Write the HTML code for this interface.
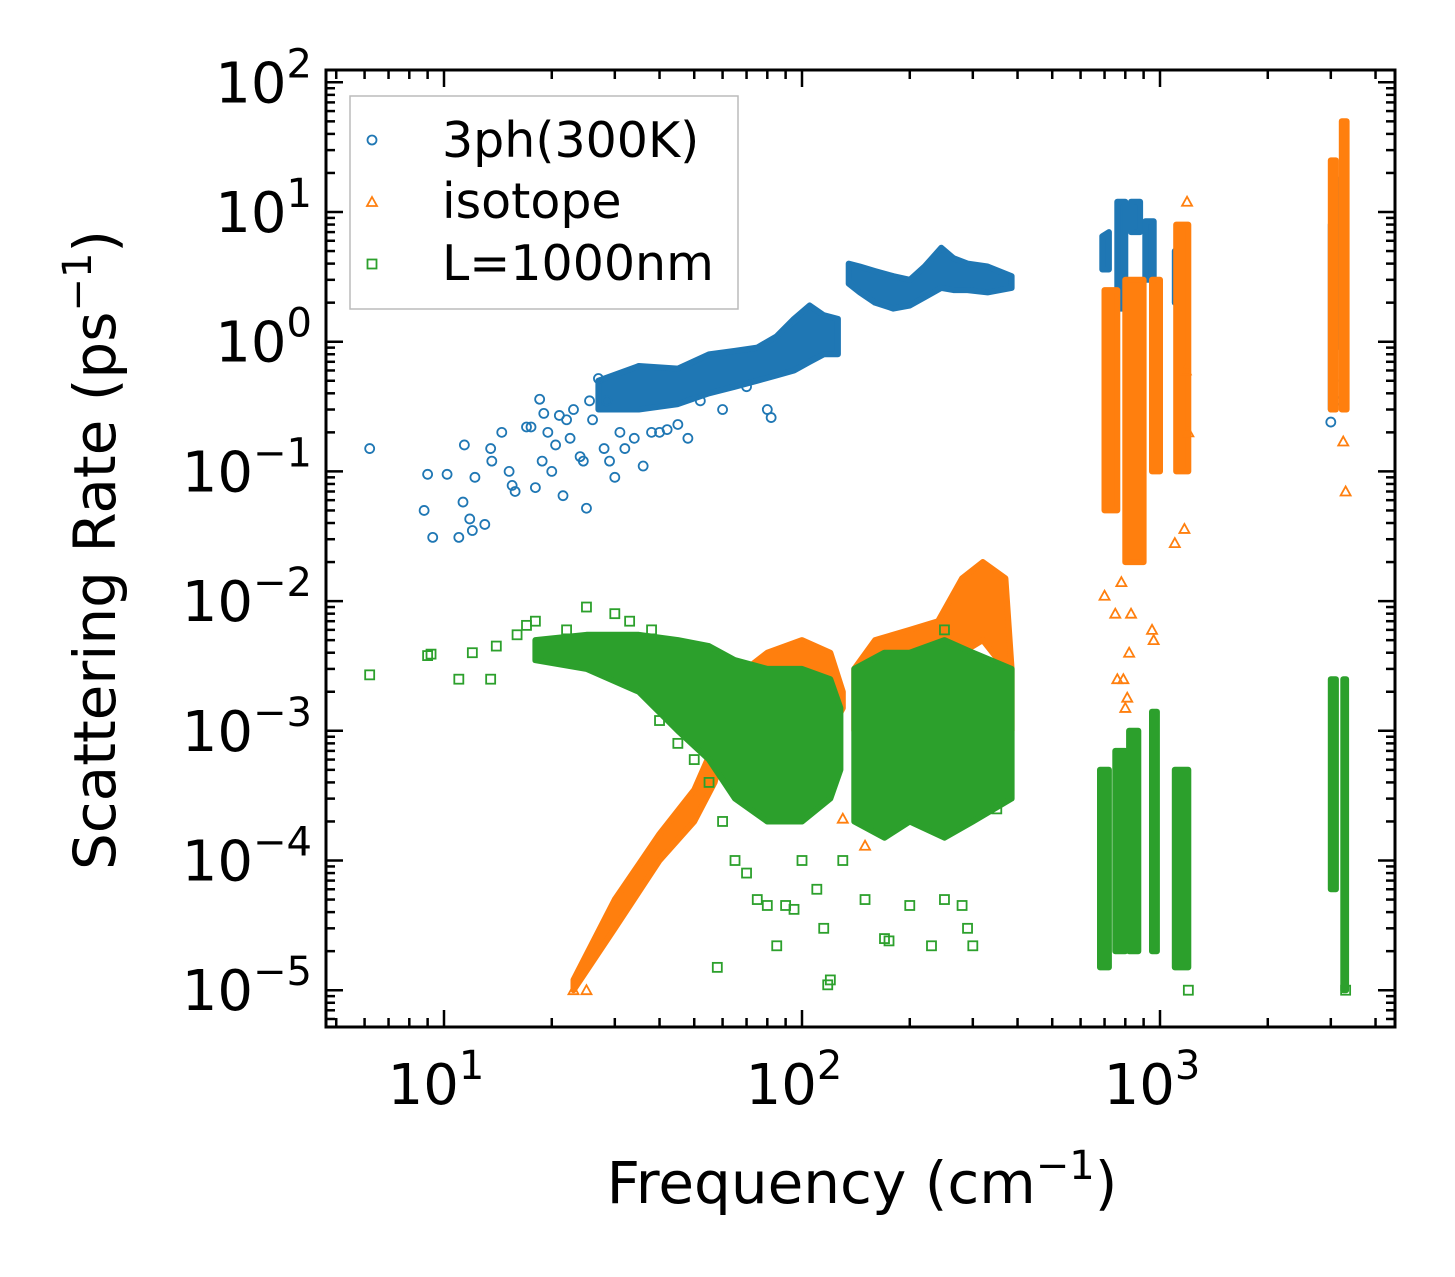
<!DOCTYPE html>
<html><head><meta charset="utf-8">
<style>
html,body{margin:0;padding:0;background:#fff;}
svg{display:block;font-family:"DejaVu Sans","Liberation Sans",sans-serif;}
</style></head>
<body>
<svg id="chart" width="1455" height="1277" viewBox="0 0 1455 1277" xmlns="http://www.w3.org/2000/svg">
<g id="marks"></g>
<g id="axes"></g>
<text x="862" y="1203" font-size="58" text-anchor="middle">Frequency (cm<tspan dy="-24" font-size="40">−1</tspan><tspan dy="24">)</tspan></text>
<text transform="translate(115,550) rotate(-90)" font-size="58" text-anchor="middle">Scattering Rate (ps<tspan dy="-24" font-size="40">−1</tspan><tspan dy="24">)</tspan></text>
<g>
<rect x="350" y="96" width="388" height="213" fill="#fff" stroke="#bbb" stroke-width="1.5"/>
<circle cx="372" cy="140" r="4.5" fill="none" stroke="#1f77b4" stroke-width="1.8"/>
<text x="442" y="157" font-size="49">3ph(300K)</text>
<path d="M372,197 L377,206 L367,206 Z" fill="none" stroke="#ff7f0e" stroke-width="1.8"/>
<text x="442" y="218" font-size="49">isotope</text>
<rect x="367.5" y="259.5" width="9" height="9" fill="none" stroke="#2ca02c" stroke-width="1.8"/>
<text x="442" y="280" font-size="49">L=1000nm</text>
</g>
</svg>
<script>
// ---- data ----
const blueScatter = [[6.2,0.15],[8.8,0.05],[9,0.095],[9.3,0.031],[10.2,0.095],[11,0.031],[11.3,0.058],[11.4,0.16],[11.8,0.043],[12,0.035],[12.2,0.09],[13,0.039],[13.5,0.15],[13.6,0.12],[14.5,0.2],[15.2,0.1],[15.5,0.078],[15.8,0.07],[17,0.22],[17.5,0.22],[18,0.075],[18.5,0.36],[18.8,0.12],[19,0.28],[19.5,0.2],[20,0.1],[20.5,0.16],[21,0.27],[21.5,0.065],[22,0.25],[22.5,0.18],[23,0.3],[24,0.13],[24.5,0.12],[25,0.052],[25.5,0.35],[26,0.25],[27,0.52],[28,0.15],[28.5,0.35],[29,0.12],[30,0.09],[31,0.2],[32,0.15],[34,0.18],[36,0.11],[38,0.2],[40,0.2],[42,0.21],[45,0.23],[48,0.18],[52,0.35],[60,0.3],[70,0.45],[80,0.3],[82,0.26],[3000,0.24],[3050,0.5],[3100,0.35]];
const blueBands = [
 [[27,0.3,0.5],[35,0.3,0.65],[45,0.33,0.62],[55,0.4,0.8],[65,0.45,0.85],[75,0.5,0.9],[85,0.55,1.1],[95,0.6,1.5],[105,0.7,1.9],[115,0.8,1.6],[126,0.8,1.5]],
 [[135,2.8,4],[145,2.4,3.8],[160,2,3.5],[180,1.8,3.2],[200,1.9,3],[220,2.2,3.8],[245,2.6,5.3],[265,2.5,4.4],[290,2.5,4],[330,2.4,3.8],[385,2.6,3.2]],
 [[690,3.6,6.5],[720,3.6,7]],[[760,1.8,12],[800,1.8,12]],[[830,7,12],[880,7,12]],
 [[910,3,8.5],[960,3,8.5]],[[1100,2,5],[1180,2,5]],[[3000,0.3,8],[3080,0.3,10]],[[3200,0.9,18],[3310,0.9,18]]];
const orangeScatter = [[700,0.011],[750,0.008],[760,0.0025],[790,0.0025],[800,0.0015],[810,0.0018],[820,0.004],[780,0.014],[830,0.008],[950,0.006],[960,0.005],[1100,0.028],[1170,0.036],[1200,0.2],[1190,12],[3300,0.07],[3250,0.17],[23,1e-5],[25,1e-5],[130,2.1e-4],[150,1.3e-4],[1180,0.6]];
const orangeBands = [
 [[23,1e-5,1.2e-5],[30,3e-5,5e-5],[40,1e-4,1.6e-4],[50,2e-4,3.5e-4],[57,4e-4,8e-4],[62,1e-3,2e-3],[70,1.5e-3,3e-3],[80,2e-3,4e-3],[100,1.5e-3,5e-3],[120,1e-3,4e-3],[130,1.5e-3,2e-3]],
 [[140,1e-3,3e-3],[160,1.5e-3,5e-3],[200,2e-3,6e-3],[240,3e-3,7e-3],[280,4e-3,1.5e-2],[320,5e-3,2e-2],[370,3e-3,1.5e-2],[385,1e-3,3e-3]],
 [[700,0.05,2.5],[760,0.05,2.5]],[[800,0.02,3],[900,0.02,3]],[[950,0.1,3],[1000,0.1,3]],
 [[1110,0.1,8],[1200,0.1,8]],[[3000,0.3,25],[3100,0.3,25]],[[3220,0.3,50],[3320,0.3,50]]];
const greenScatter = [[6.2,2.7e-3],[9,3.8e-3],[9.2,3.9e-3],[11,2.5e-3],[12,4e-3],[13.5,2.5e-3],[14,4.5e-3],[16,5.5e-3],[17,6.5e-3],[18,7e-3],[22,6e-3],[25,9e-3],[30,8e-3],[33,7e-3],[38,6e-3],[40,1.2e-3],[45,8e-4],[50,6e-4],[55,4e-4],[58,1.5e-5],[60,2e-4],[65,1e-4],[70,8e-5],[75,5e-5],[80,4.5e-5],[85,2.2e-5],[90,4.5e-5],[95,4.2e-5],[100,1e-4],[110,6e-5],[115,3e-5],[120,1.2e-5],[118,1.1e-5],[150,5e-5],[170,2.5e-5],[175,2.4e-5],[200,4.5e-5],[230,2.2e-5],[250,5e-5],[280,4.5e-5],[300,2.2e-5],[290,3e-5],[350,2.5e-4],[1200,1e-5],[3300,1e-5],[130,1e-4],[250,6e-3]];
const greenBands = [
 [[18,3.5e-3,5e-3],[25,3e-3,5.5e-3],[35,2e-3,5.5e-3],[45,1e-3,5e-3],[55,6e-4,4.5e-3],[65,3e-4,3.5e-3],[80,2e-4,3e-3],[100,2e-4,3e-3],[120,3e-4,2.5e-3],[128,5e-4,1.5e-3]],
 [[140,2e-4,3e-3],[170,1.5e-4,4e-3],[200,2e-4,4e-3],[250,1.5e-4,5e-3],[300,2e-4,4e-3],[385,3e-4,3e-3]],
 [[680,1.5e-5,5e-4],[720,1.5e-5,5e-4]],[[750,2e-5,7e-4],[800,2e-5,7e-4]],[[820,2e-5,1e-3],[870,2e-5,1e-3]],
 [[950,2e-5,1.4e-3],[980,2e-5,1.4e-3]],[[1100,1.5e-5,5e-4],[1200,1.5e-5,5e-4]],[[3000,6e-5,2.5e-3],[3100,6e-5,2.5e-3]],[[3250,1e-5,2.5e-3],[3310,1e-5,2.5e-3]]];
const yTickExps = [-5,-4,-3,-2,-1,0,1,2];
const xTickExps = [1,2,3];

// ---- axes ----
const L=326,R=1395,T=70,B=1027;
const xs = f => 444 + (Math.log10(f)-1)*358;
const ys = v => 212 - (Math.log10(v)-1)*129.7;
const NS="http://www.w3.org/2000/svg";
const marks=document.getElementById('marks'), axes=document.getElementById('axes');
function mk(tag,attrs,parent){const e=document.createElementNS(NS,tag);for(const k in attrs)e.setAttribute(k,attrs[k]);parent.appendChild(e);return e;}

function drawBands(bands,color,name){
  bands.forEach(b=>{
    let d='';
    b.forEach((p,i)=>{d+=(i?'L':'M')+xs(p[0]).toFixed(1)+','+ys(p[2]).toFixed(1);});
    for(let i=b.length-1;i>=0;i--){d+='L'+xs(b[i][0]).toFixed(1)+','+ys(b[i][1]).toFixed(1);}
    const e=mk('path',{d:d+'Z',fill:color,stroke:color,'stroke-width':6,'stroke-linejoin':'round'},marks);
    
    
  });
}
function drawPts(pts,color,shape,name){
  pts.forEach(p=>{
    const x=xs(p[0]),y=ys(p[1]);let e;
    if(shape==='c') e=mk('circle',{cx:x,cy:y,r:4.5,fill:'none',stroke:color,'stroke-width':1.8},marks);
    else if(shape==='t') e=mk('path',{d:`M${x},${y-5}L${x+5},${y+4}L${x-5},${y+4}Z`,fill:'none',stroke:color,'stroke-width':1.8},marks);
    else e=mk('rect',{x:x-4.5,y:y-4.5,width:9,height:9,fill:'none',stroke:color,'stroke-width':1.8},marks);
    
    
  });
}
drawBands(blueBands,'#1f77b4','3ph-cluster');
drawPts(blueScatter,'#1f77b4','c','3ph-point');
drawBands(orangeBands,'#ff7f0e','isotope-cluster');
drawPts(orangeScatter,'#ff7f0e','t','isotope-point');
drawBands(greenBands,'#2ca02c','boundary-cluster');
drawPts(greenScatter,'#2ca02c','s','boundary-point');

// frame
const fr=mk('rect',{x:L,y:T,width:R-L,height:B-T,fill:'none',stroke:'#000','stroke-width':3},axes);


// x ticks
for(let e=0;e<=3;e++){for(let m=1;m<=9;m++){
  const f=m*Math.pow(10,e);const x=xs(f);if(x<L+1||x>R-1)continue;
  const len=m===1?17:9;
  const t1=mk('line',{x1:x,x2:x,y1:B,y2:B-len,stroke:'#000','stroke-width':2.5},axes);
  
  
  const t2=mk('line',{x1:x,x2:x,y1:T,y2:T+len,stroke:'#000','stroke-width':2.5},axes);
  
  
}}
xTickExps.forEach(e=>{
  const t=mk('text',{x:xs(Math.pow(10,e))-8,y:1104,'font-size':56,'text-anchor':'middle'},axes);
  
  
  t.innerHTML='10<tspan dy="-25" font-size="40">'+e+'</tspan>';
});
// y ticks
for(let e=-6;e<=2;e++){for(let m=1;m<=9;m++){
  const v=m*Math.pow(10,e);const y=ys(v);if(y>B-1||y<T+1)continue;
  const len=m===1?17:9;
  const t1=mk('line',{x1:L,x2:L+len,y1:y,y2:y,stroke:'#000','stroke-width':2.5},axes);
  
  
  const t2=mk('line',{x1:R,x2:R-len,y1:y,y2:y,stroke:'#000','stroke-width':2.5},axes);
  
  
}}
yTickExps.forEach(e=>{
  const t=mk('text',{x:312,y:ys(Math.pow(10,e))+20,'font-size':56,'text-anchor':'end'},axes);
  
  
  const s=e<0?'−'+(-e):''+e;
  t.innerHTML='10<tspan dy="-25" font-size="40">'+s+'</tspan>';
});
</script>
</body></html>
